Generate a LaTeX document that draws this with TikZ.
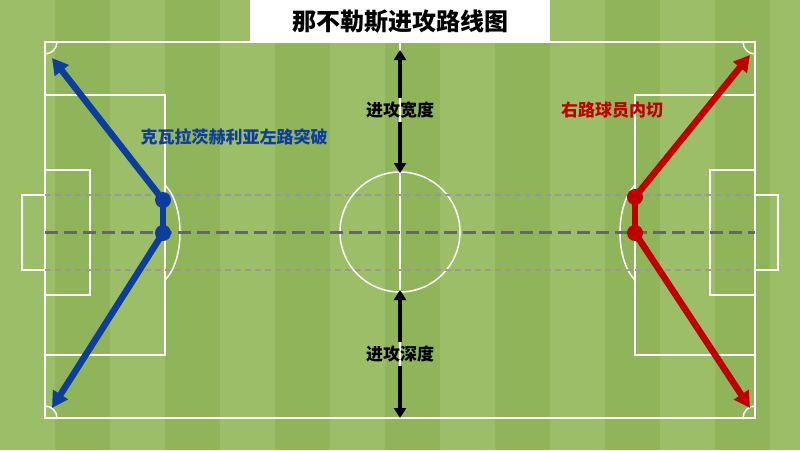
\documentclass[tikz,border=0pt]{standalone}
\usepackage{fontspec}
\newfontfamily\cjk{Noto Sans CJK SC}
\usetikzlibrary{arrows.meta}
\definecolor{grassA}{HTML}{8FB45A}
\definecolor{grassB}{HTML}{9DBE68}
\definecolor{blueR}{HTML}{0D3E9E}
\definecolor{redR}{HTML}{C00000}
\tikzset{
  pitchline/.style={white,line width=1.5pt},
  guide/.style={gray!80,line width=1.5pt,dash pattern=on 6pt off 4pt},
  mainguide/.style={black!60,line width=3pt,dash pattern=on 13pt off 6pt},
  blueattack/.style={blueR,line width=6.5pt,-{Triangle[length=16pt,width=17pt]}},
  redattack/.style={redR,line width=6.5pt,-{Triangle[length=16pt,width=17pt]}},
  dimarrow/.style={black,line width=3.5pt,-{Triangle[length=10pt,width=12pt]}},
  lbl/.style={font=\cjk\bfseries\fontsize{17}{20}\selectfont},
}
\begin{document}
\begin{tikzpicture}[x=1pt,y=-1pt]
\useasboundingbox (0,0) rectangle (800,450);
\fill[grassA] (0,0) rectangle (800,450);
\foreach \i in {0,2,...,14} \fill[grassB] (\i*55,0) rectangle ({(\i+1)*55},450);
% pitch
\draw[pitchline] (45,42) rectangle (755,418);
\draw[pitchline] (400,42) -- (400,418);
\draw[pitchline] (400,232) circle (60);
\draw[pitchline] (45,95) rectangle (165,355);
\draw[pitchline] (755,95) rectangle (635,355);
\draw[pitchline] (45,170) rectangle (90,295);
\draw[pitchline] (755,170) rectangle (710,295);
\draw[pitchline] (22,195) rectangle (45,270);
\draw[pitchline] (778,195) rectangle (755,270);
\draw[pitchline] (165,185) .. controls (185,205) and (185,260) .. (165,280);
\draw[pitchline] (635,185) .. controls (615,205) and (615,260) .. (635,280);
\draw[pitchline] (45,54) arc (90:0:12);
\draw[pitchline] (743,42) arc (180:90:12);
\draw[pitchline] (45,406) arc (-90:0:12);
\draw[pitchline] (755,406) arc (270:180:12);
% guides
\draw[guide] (45,195) -- (755,195);
\draw[guide] (45,270) -- (755,270);
\draw[mainguide] (45,232) -- (755,232);
% title
\node[fill=white,inner sep=0pt,minimum width=300pt,minimum height=42pt,anchor=north,font=\cjk\bfseries\fontsize{24}{28}\selectfont] (title) at (400,0) {那不勒斯进攻路线图};
% blue
\coordinate (b1) at (163,200); \coordinate (b2) at (163,233);
\coordinate (bt) at (52,58); \coordinate (bb) at (52,408);
\draw[blueR,line width=6.5pt] (b1) -- (b2);
\draw[blueattack] (b1) -- (bt);
\draw[blueattack] (b2) -- (bb);
\fill[blueR] (b1) circle (8); \fill[blueR] (b2) circle (8);
\node[lbl,text=blueR] (bl) at (234,137) {克瓦拉茨赫利亚左路突破};
% red
\coordinate (r1) at (635,197); \coordinate (r2) at (635,233);
\coordinate (rt) at (750,55); \coordinate (rb) at (750,408);
\draw[redR,line width=6.5pt] (r1) -- (r2);
\draw[redattack] (r1) -- (rt);
\draw[redattack] (r2) -- (rb);
\fill[redR] (r1) circle (8); \fill[redR] (r2) circle (8);
\node[lbl,text=redR] (rl) at (612,110) {右路球员内切};
% width / depth
\node[lbl] (w) at (400,110) {进攻宽度};
\coordinate (wt) at (400,50); \coordinate (wb) at (400,173);
\draw[dimarrow] (w.north) -- (wt);
\draw[dimarrow] (w.south) -- (wb);
\node[lbl] (d) at (400,354) {进攻深度};
\coordinate (dt) at (400,290); \coordinate (db) at (400,418);
\draw[dimarrow] (d.north) -- (dt);
\draw[dimarrow] (d.south) -- (db);
\end{tikzpicture}
\end{document}
